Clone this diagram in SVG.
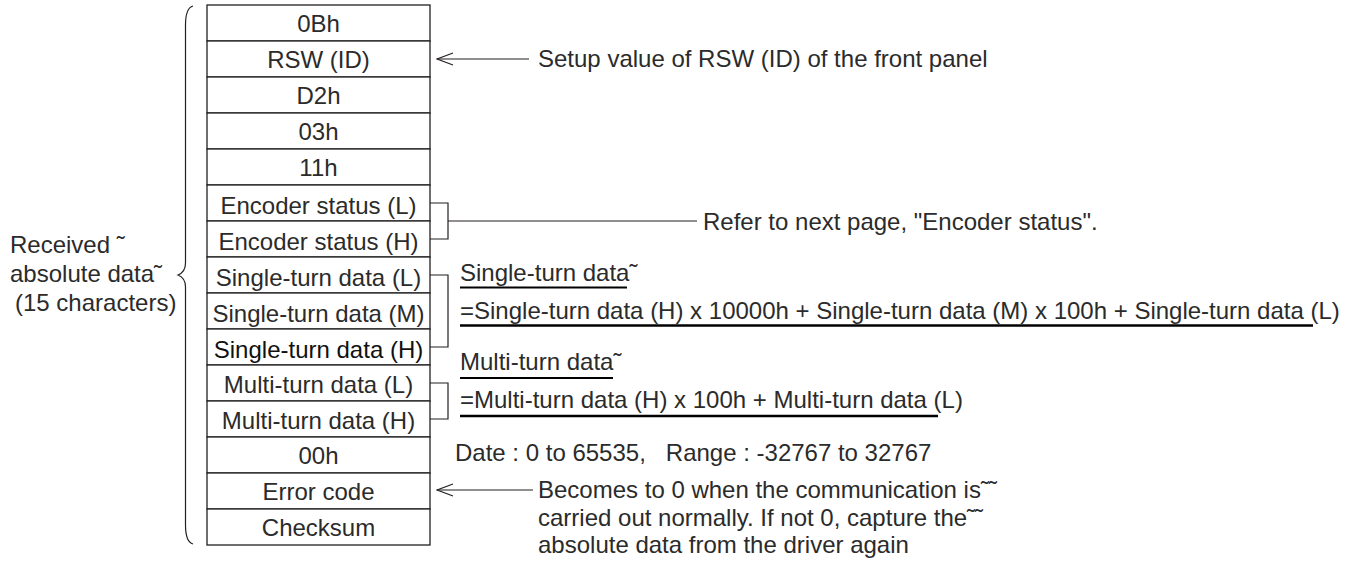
<svg xmlns="http://www.w3.org/2000/svg" width="1356" height="563" viewBox="0 0 1356 563">
<defs>
<style>
text{font-family:"Liberation Sans",Arial,sans-serif;font-size:24px;fill:#2b2b2b}
.c{text-anchor:middle}
.cell{fill:#fff;stroke:#231f20;stroke-width:1.3}
.ln{fill:none;stroke:#231f20;stroke-width:1.2}
.ul{stroke:#000;stroke-width:2.2}
.ul2{stroke:#000;stroke-width:2.6}
</style>
<marker id="ah" viewBox="0 0 18 14" refX="1" refY="7" markerWidth="18" markerHeight="14" markerUnits="userSpaceOnUse" orient="auto">
<path d="M17,1 L1,7 L17,13" fill="none" stroke="#231f20" stroke-width="1.2"/>
</marker>
</defs>
<rect width="1356" height="563" fill="#fff"/>
<g id="table">
<g id="r0"><rect class="cell" x="207" y="5" width="223" height="36"/><text class="c" x="318.5" y="32">0Bh</text></g>
<g id="r1"><rect class="cell" x="207" y="41" width="223" height="36"/><text class="c" x="318.5" y="68">RSW (ID)</text></g>
<g id="r2"><rect class="cell" x="207" y="77" width="223" height="36"/><text class="c" x="318.5" y="104">D2h</text></g>
<g id="r3"><rect class="cell" x="207" y="113" width="223" height="36"/><text class="c" x="318.5" y="140">03h</text></g>
<g id="r4"><rect class="cell" x="207" y="149" width="223" height="36"/><text class="c" x="318.5" y="176">11h</text></g>
<g id="r5"><rect class="cell" x="207" y="185" width="223" height="36"/><text class="c" x="318.5" y="213.5">Encoder status (L)</text></g>
<g id="r6"><rect class="cell" x="207" y="221" width="223" height="36"/><text class="c" x="318.5" y="249.5">Encoder status (H)</text></g>
<g id="r7"><rect class="cell" x="207" y="257" width="223" height="36"/><text class="c" x="318.5" y="285.5">Single-turn data (L)</text></g>
<g id="r8"><rect class="cell" x="207" y="293" width="223" height="36"/><text class="c" x="318.5" y="321.5">Single-turn data (M)</text></g>
<g id="r9"><rect class="cell" x="207" y="329" width="223" height="36"/><text class="c" x="318.5" y="357.5" style="fill:#111">Single-turn data (H)</text></g>
<g id="r10"><rect class="cell" x="207" y="365" width="223" height="36"/><text class="c" x="318.5" y="392.5">Multi-turn data (L)</text></g>
<g id="r11"><rect class="cell" x="207" y="401" width="223" height="36"/><text class="c" x="318.5" y="428.5">Multi-turn data (H)</text></g>
<g id="r12"><rect class="cell" x="207" y="437" width="223" height="36"/><text class="c" x="318.5" y="464">00h</text></g>
<g id="r13"><rect class="cell" x="207" y="473" width="223" height="36"/><text class="c" x="318.5" y="500">Error code</text></g>
<g id="r14"><rect class="cell" x="207" y="509" width="223" height="36"/><text class="c" x="318.5" y="536">Checksum</text></g>
</g>
<g id="connectors">
<path class="ln" d="M193,6 Q185.5,8 185.5,25 L185.5,263 Q185.5,272 178,275 Q185.5,278 185.5,287 L185.5,525 Q185.5,542 193,544"/>
<line class="ln" x1="437" y1="59" x2="529" y2="59" marker-start="url(#ah)"/>
<path class="ln" d="M430,203 H448 V239 H430 M448,221 H697"/>
<path class="ln" d="M430,275 H448 V347 H430"/>
<path class="ln" d="M430,383 H448 V419 H430"/>
<line class="ln" x1="437" y1="490" x2="533" y2="490" marker-start="url(#ah)"/>
</g>
<g id="brace-label">
<text x="10" y="253">Received ˜</text>
<text x="10" y="282">absolute data˜</text>
<text x="15" y="311">(15 characters)</text>
</g>
<g id="notes">
<text x="538" y="67">Setup value of RSW (ID) of the front panel</text>
<text x="703" y="230">Refer to next page, "Encoder status".</text>
<text x="460" y="281">Single-turn data˜</text>
<line class="ul" x1="460" y1="287.5" x2="627" y2="287.5"/>
<text x="460" y="318.5">=Single-turn data (H) x 10000h + Single-turn data (M) x 100h + Single-turn data (L)</text>
<line class="ul2" x1="460" y1="325.5" x2="1313" y2="325.5"/>
<text x="460" y="370">Multi-turn data˜</text>
<line class="ul" x1="460" y1="378" x2="613" y2="378"/>
<text x="460" y="407.5">=Multi-turn data (H) x 100h + Multi-turn data (L)</text>
<line class="ul2" x1="460" y1="416" x2="938" y2="416"/>
<text x="455" y="461" xml:space="preserve">Date : 0 to 65535,   Range : -32767 to 32767</text>
<text x="538" y="498">Becomes to 0 when the communication is˜˜</text>
<text x="538" y="526">carried out normally. If not 0, capture the˜˜</text>
<text x="538" y="553">absolute data from the driver again</text>
</g>
</svg>
